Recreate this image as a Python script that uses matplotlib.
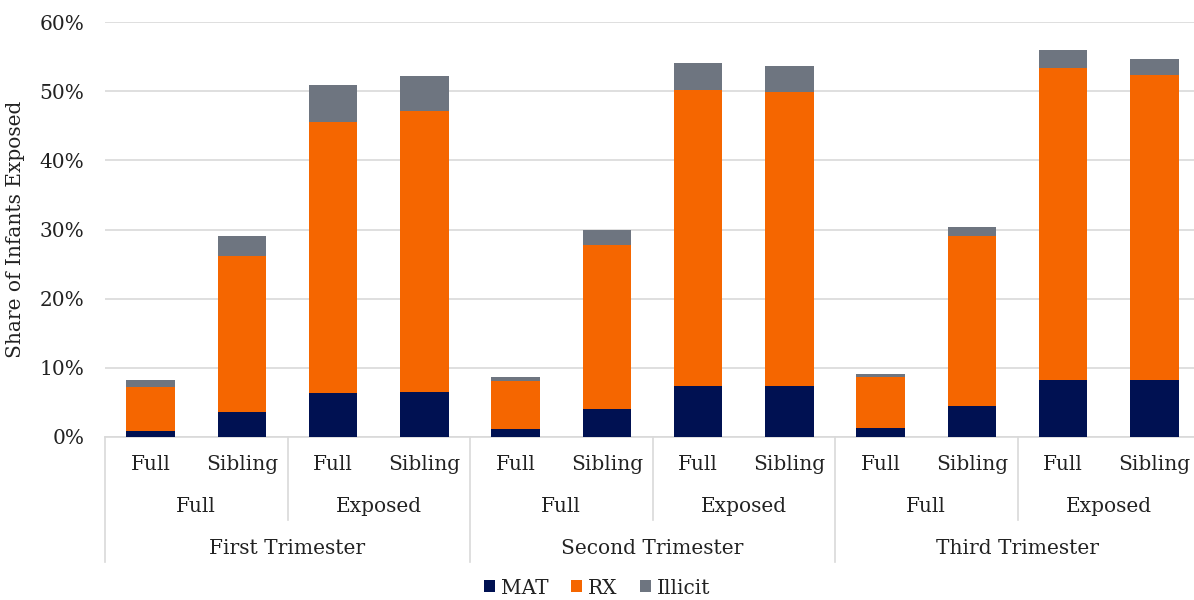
import matplotlib.pyplot as plt
import matplotlib.transforms as mtransforms
from matplotlib.ticker import PercentFormatter
import numpy as np

# share of infants exposed (%), one value per bar
mat = [0.9, 3.6, 6.3, 6.5, 1.2, 4.1, 7.4, 7.4, 1.3, 4.5, 8.2, 8.2]
rx = [6.4, 22.6, 39.2, 40.6, 6.9, 23.7, 42.7, 42.5, 7.4, 24.6, 45.2, 44.1]
illicit = [0.9, 2.9, 5.4, 5.1, 0.6, 2.1, 4.0, 3.7, 0.4, 1.2, 2.5, 2.3]

sample_labels = ['Full', 'Sibling'] * 6
cohort_labels = ['Full', 'Exposed'] * 3
trimester_labels = ['First Trimester', 'Second Trimester', 'Third Trimester']

plt.rcParams['font.family'] = ['DejaVu Serif']
txt_color = '#222222'
fsize = 14.5

W, H = 1194, 600
fig = plt.figure(figsize=(W / 100, H / 100), dpi=100)
ax = fig.add_axes([105 / W, (H - 437) / H, (1200 - 105) / W, (437 - 22) / H])

x = np.arange(len(mat))
mat_a = np.array(mat)
rx_a = np.array(rx)
ill_a = np.array(illicit)
width = 0.53

ax.bar(x, mat_a, width, color='#001152', label='MAT', zorder=3)
ax.bar(x, rx_a, width, bottom=mat_a, color='#F56600', label='RX', zorder=3)
ax.bar(x, ill_a, width, bottom=mat_a + rx_a, color='#6E7580', label='Illicit', zorder=3)

ax.set_xlim(-0.5, len(mat) - 0.5)
ax.set_ylim(0, 60)
ax.set_yticks(np.arange(0, 61, 10))
ax.yaxis.set_major_formatter(PercentFormatter(100, decimals=0))
ax.grid(axis='y', color='#D9D9D9', linewidth=1.2, zorder=0)
ax.tick_params(axis='y', length=0, labelsize=fsize, pad=15, colors=txt_color)
ax.tick_params(axis='x', length=0, labelbottom=False)
for side in ['top', 'right', 'left']:
    ax.spines[side].set_visible(False)
ax.spines['bottom'].set_color('#D9D9D9')
ax.spines['bottom'].set_linewidth(1.2)

ax.set_ylabel('Share of Infants Exposed', fontsize=fsize, color=txt_color, labelpad=10)

# multi-level category axis below the bars
tr = mtransforms.blended_transform_factory(ax.transData, fig.transFigure)


def fy(px):
    return (H - px) / H


for i, lab in enumerate(sample_labels):
    ax.text(i, fy(465), lab, transform=tr, ha='center', va='center',
            fontsize=fsize, color=txt_color)
for j, lab in enumerate(cohort_labels):
    ax.text(2 * j + 0.5, fy(506), lab, transform=tr, ha='center', va='center',
            fontsize=fsize, color=txt_color)
for k, lab in enumerate(trimester_labels):
    ax.text(4 * k + 1.5, fy(548), lab, transform=tr, ha='center', va='center',
            fontsize=fsize, color=txt_color)

for b in range(0, 12, 2):
    xb = b - 0.5
    y_end = 562 if b % 4 == 0 else 520
    ax.plot([xb, xb], [fy(437), fy(y_end)], transform=tr, color='#D9D9D9',
            linewidth=1.2, clip_on=False)

fig.legend(loc='center', bbox_to_anchor=(0.5, fy(588)), ncol=3, frameon=False,
           fontsize=fsize, handlelength=0.55, handleheight=0.55, handletextpad=0.3,
           columnspacing=1.1, labelcolor=txt_color)

fig.savefig('out.png', dpi=100)
